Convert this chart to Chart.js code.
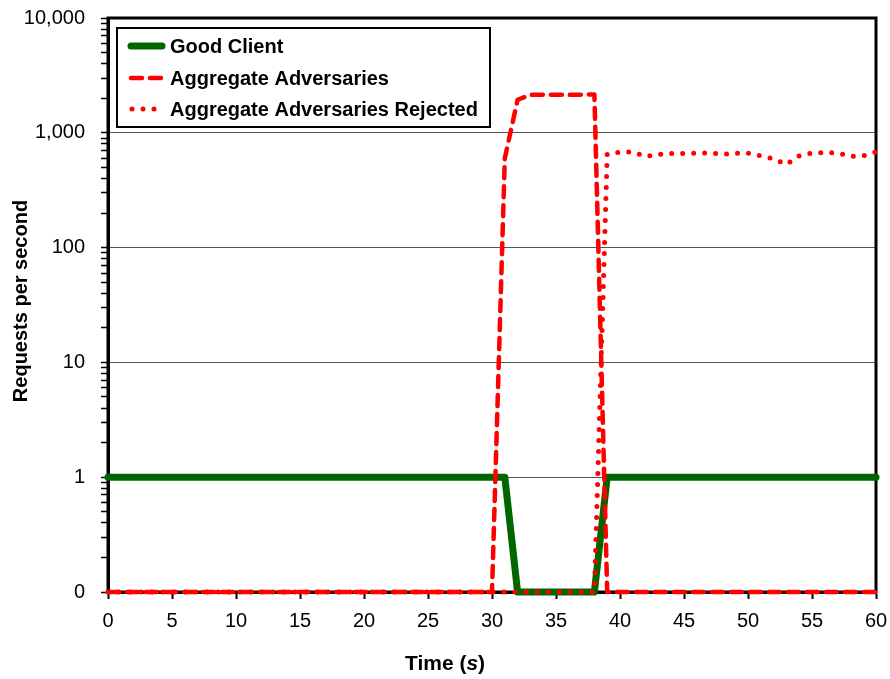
<!DOCTYPE html>
<html>
<head>
<meta charset="utf-8">
<script src="https://cdn.jsdelivr.net/npm/chart.js@4.4.1/dist/chart.umd.min.js"></script>
<style>
  body { margin: 0; background: #fff; }
  #wrap { width: 890px; height: 679px; }
</style>
</head>
<body>
<div id="wrap"><canvas id="attackChart" width="890" height="679"></canvas></div>
<script>
// time in seconds
const seconds = [0, 1, 2, 3, 4, 5, 6, 7, 8, 9, 10, 11, 12, 13, 14, 15, 16, 17, 18, 19, 20,
    21, 22, 23, 24, 25, 26, 27, 28, 29, 30, 31, 32, 33, 34, 35, 36, 37, 38, 39, 40,
    41, 42, 43, 44, 45, 46, 47, 48, 49, 50, 51, 52, 53, 54, 55, 56, 57, 58, 59, 60];

// 0.1 sits on the bottom of the log axis, shown as "0"
const goodClient = [1, 1, 1, 1, 1, 1, 1, 1, 1, 1, 1, 1, 1, 1, 1, 1, 1, 1, 1, 1, 1,
    1, 1, 1, 1, 1, 1, 1, 1, 1, 1, 1, 0.1, 0.1, 0.1, 0.1, 0.1, 0.1, 0.1, 1, 1,
    1, 1, 1, 1, 1, 1, 1, 1, 1, 1, 1, 1, 1, 1, 1, 1, 1, 1, 1, 1];

const aggregateAdversaries = [0.1, 0.1, 0.1, 0.1, 0.1, 0.1, 0.1, 0.1, 0.1, 0.1, 0.1,
    0.1, 0.1, 0.1, 0.1, 0.1, 0.1, 0.1, 0.1, 0.1, 0.1,
    0.1, 0.1, 0.1, 0.1, 0.1, 0.1, 0.1, 0.1, 0.1, 0.1, 600, 1940, 2140, 2150, 2150, 2140, 2150, 2160, 0.1, 0.1,
    0.1, 0.1, 0.1, 0.1, 0.1, 0.1, 0.1, 0.1, 0.1, 0.1, 0.1, 0.1, 0.1, 0.1, 0.1, 0.1, 0.1, 0.1, 0.1, 0.1];

const adversariesRejected = [0.1, 0.1, 0.1, 0.1, 0.1, 0.1, 0.1, 0.1, 0.1, 0.1, 0.1,
    0.1, 0.1, 0.1, 0.1, 0.1, 0.1, 0.1, 0.1, 0.1, 0.1,
    0.1, 0.1, 0.1, 0.1, 0.1, 0.1, 0.1, 0.1, 0.1, 0.1, 0.1, 0.1, 0.1, 0.1, 0.1, 0.1, 0.1, 0.1, 650, 680,
    680, 620, 650, 660, 660, 665, 670, 650, 665, 665, 630, 595, 530, 630, 665, 675, 665, 625, 630, 680];

const yMajorTicks = [0.1, 1, 10, 100, 1000, 10000];
const yTickLabels = ['0', '1', '10', '100', '1,000', '10,000'];

const FONT = "'Liberation Sans', Arial, sans-serif";

function toPoints(values) {
    return values.map((v, i) => ({ x: seconds[i], y: v }));
}

function isMajor(v) {
    return yMajorTicks.some(m => Math.abs(m - v) < m * 1e-6);
}

// legend box drawn inside the plot, like the original
const boxLegend = {
    id: 'boxLegend',
    afterDatasetsDraw(chart) {
        const ctx = chart.ctx;
        const x0 = 117, y0 = 28, w = 373, h = 99;
        ctx.save();
        ctx.fillStyle = '#fff';
        ctx.fillRect(x0, y0, w, h);
        ctx.strokeStyle = '#000';
        ctx.lineWidth = 2;
        ctx.strokeRect(x0, y0, w, h);
        const rows = [46, 78, 109];
        chart.data.datasets.forEach((ds, i) => {
            const y = rows[i];
            ctx.strokeStyle = ds.borderColor;
            ctx.lineWidth = ds.borderWidth;
            ctx.lineCap = 'round';
            ctx.setLineDash(ds.borderDash || []);
            ctx.beginPath();
            if (ds.borderDash && ds.borderDash[0] === 0) {
                ctx.moveTo(132, y);
                ctx.lineTo(160, y);
            } else {
                ctx.moveTo(131, y);
                ctx.lineTo(162, y);
            }
            ctx.stroke();
            ctx.setLineDash([]);
            ctx.fillStyle = '#000';
            ctx.font = 'bold 20px ' + FONT;
            ctx.textAlign = 'left';
            ctx.textBaseline = 'middle';
            ctx.fillText(ds.label, 170, y + 1);
        });
        ctx.restore();
    }
};

// frame round the plot area (under the lines)
const plotFrame = {
    id: 'plotFrame',
    beforeDatasetsDraw(chart) {
        const ctx = chart.ctx;
        const a = chart.chartArea;
        ctx.save();
        ctx.strokeStyle = '#000';
        ctx.lineWidth = 3;
        ctx.strokeRect(a.left, a.top, a.right - a.left, a.bottom - a.top);
        ctx.restore();
    }
};

// axis titles
const axisTitles = {
    id: 'axisTitles',
    afterDraw(chart) {
        const ctx = chart.ctx;
        ctx.save();
        ctx.fillStyle = '#000';
        ctx.textBaseline = 'middle';
        // x title: "Time (s)" with an italic s
        const parts = [['bold', 'Time ('], ['bold italic', 's'], ['bold', ')']];
        let total = 0;
        parts.forEach(p => { ctx.font = p[0] + ' 21px ' + FONT; total += ctx.measureText(p[1]).width; });
        let x = 445 - total / 2;
        ctx.textAlign = 'left';
        parts.forEach(p => {
            ctx.font = p[0] + ' 21px ' + FONT;
            ctx.fillText(p[1], x, 664);
            x += ctx.measureText(p[1]).width;
        });
        // y title
        ctx.translate(21, 301);
        ctx.rotate(-Math.PI / 2);
        ctx.textAlign = 'center';
        ctx.font = 'bold 20px ' + FONT;
        ctx.fillText('Requests per second', 0, 0);
        ctx.restore();
    }
};

const config = {
    type: 'line',
    data: {
        datasets: [{
            label: 'Good Client',
            data: toPoints(goodClient),
            borderColor: '#006600',
            borderWidth: 7,
            order: 3
        }, {
            label: 'Aggregate Adversaries',
            data: toPoints(aggregateAdversaries),
            borderColor: '#ff0000',
            borderWidth: 4.5,
            borderDash: [11, 8],
            order: 2
        }, {
            label: 'Aggregate Adversaries Rejected',
            data: toPoints(adversariesRejected),
            borderColor: '#ff0000',
            borderWidth: 5,
            borderDash: [0, 11],
            order: 1
        }]
    },
    options: {
        responsive: false,
        animation: false,
        clip: 10,
        layout: { padding: { left: 0, right: 14, top: 18, bottom: 0 } },
        elements: {
            point: { radius: 0 },
            line: { tension: 0, borderCapStyle: 'round', borderJoinStyle: 'round' }
        },
        plugins: {
            legend: { display: false },
            tooltip: { enabled: false }
        },
        scales: {
            x: {
                type: 'linear',
                min: 0,
                max: 60,
                ticks: {
                    stepSize: 5,
                    color: '#000',
                    padding: 10,
                    font: { family: FONT, size: 20 },
                    maxRotation: 0
                },
                grid: {
                    drawOnChartArea: false,
                    tickLength: 7,
                    tickColor: '#000',
                    tickWidth: 2
                },
                border: { color: '#000', width: 3 },
                afterFit(scale) {
                    scale.height = 87;
                    scale.paddingLeft = 0;
                    scale.paddingRight = 0;
                }
            },
            y: {
                type: 'logarithmic',
                min: 0.1,
                max: 10000,
                afterBuildTicks(scale) {
                    const ticks = [];
                    yMajorTicks.forEach((m, i) => {
                        ticks.push({ value: m, major: true });
                        if (i < yMajorTicks.length - 1) {
                            for (let k = 2; k <= 9; k++) ticks.push({ value: m * k });
                        }
                    });
                    scale.ticks = ticks;
                },
                ticks: {
                    autoSkip: false,
                    color: '#000',
                    padding: 16,
                    font: { family: FONT, size: 20 },
                    callback(value) {
                        const idx = yMajorTicks.findIndex(m => Math.abs(m - value) < m * 1e-6);
                        return idx >= 0 ? yTickLabels[idx] : '';
                    }
                },
                grid: {
                    color: ctx => (ctx.tick && isMajor(ctx.tick.value)) ? '#555' : 'rgba(0,0,0,0)',
                    lineWidth: 1,
                    tickLength: 7,
                    tickColor: '#000',
                    tickWidth: 1.5
                },
                border: { color: '#000', width: 3 },
                afterFit(scale) {
                    scale.width = 108;
                    scale.paddingTop = 0;
                    scale.paddingBottom = 0;
                }
            }
        }
    },
    plugins: [plotFrame, boxLegend, axisTitles]
};

const context = document.getElementById('attackChart').getContext('2d');
const attackChart = new Chart(context, config);
</script>
</body>
</html>
